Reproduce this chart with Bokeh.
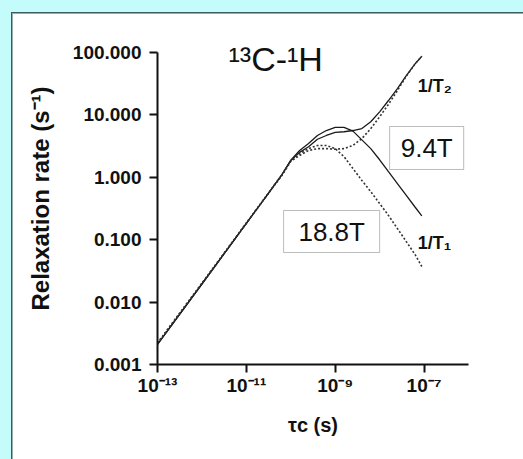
from bokeh.plotting import figure
from bokeh.models import FixedTicker, Label, BoxAnnotation
from bokeh.embed import file_html
from bokeh.resources import INLINE

# correlation times (s)
tau = [1e-13, 1e-12, 1e-11, 3.16e-11, 6.31e-11, 1.0e-10, 1.58e-10, 2.51e-10, 3.98e-10,
       6.31e-10, 1.0e-9, 1.58e-9, 2.51e-9, 3.98e-9, 6.31e-9, 1.0e-8, 1.58e-8, 2.51e-8,
       3.98e-8, 6.31e-8, 8.9e-8]
# relaxation rates (s^-1), 9.4 T (solid)
r1_94 = [0.0021, 0.0195, 0.182, 0.56, 1.10, 1.88, 2.69, 3.47, 4.68, 5.62, 6.31, 6.31, 5.50,
         3.98, 2.88, 1.91, 1.23, 0.794, 0.513, 0.331, 0.240]
r2_94 = [0.0021, 0.0195, 0.182, 0.56, 1.10, 1.85, 2.51, 3.09, 4.07, 4.68, 5.25, 5.37, 5.62,
         6.03, 7.76, 11.2, 17.0, 26.3, 42.7, 66.1, 87.1]
# relaxation rates (s^-1), 18.8 T (dotted)
r1_188 = [0.0022, 0.020, 0.185, 0.56, 1.08, 1.82, 2.40, 2.88, 3.24, 3.24, 2.88, 2.14, 1.38,
          0.891, 0.589, 0.380, 0.245, 0.151, 0.0933, 0.0575, 0.0372]
r2_188 = [0.0022, 0.020, 0.185, 0.56, 1.08, 1.80, 2.24, 2.69, 2.88, 2.88, 2.82, 2.88, 3.24,
          4.17, 6.03, 9.33, 14.8, 24.5, 41.7, 66.1, 87.1]

x_ticks = [1e-13, 1e-11, 1e-9, 1e-7]
x_tick_labels = ["10⁻¹³", "10⁻¹¹", "10⁻⁹", "10⁻⁷"]
x_tick_keys = ["1e-13", "1e-11", "1e-9", "1e-7"]
y_ticks = [0.001, 0.01, 0.1, 1, 10, 100]
y_tick_labels = ["0.001", "0.010", "0.100", "1.000", "10.000", "100.000"]
y_tick_keys = ["0.001", "0.01", "0.1", "1", "10", "100"]

FONT = "Liberation Sans"
INK = "#111111"
CYAN = "#c4fcfc"
EDGE = "#3d5c5c"
GRAY = "#9aabab"

p = figure(width=523, height=459, x_axis_type="log", y_axis_type="log",
           x_range=(1e-13, 1e-6), y_range=(1e-3, 10**2.3205),
           output_backend="svg", toolbar_location=None,
           min_border_left=157, min_border_right=55, min_border_top=32, min_border_bottom=95)
p.styles = {
    "background": (
        f"linear-gradient({CYAN}, {CYAN}) 0px 0px / 11px 100% no-repeat, "
        f"linear-gradient({CYAN}, {CYAN}) 0px 0px / 100% 12px no-repeat, "
        f"linear-gradient({EDGE}, {EDGE}) 11px 12px / 100% 1px no-repeat, "
        f"linear-gradient({EDGE}, {EDGE}) 11px 12px / 1px 100% no-repeat, "
        f"linear-gradient({GRAY}, {GRAY}) 12px 13px / 100% 1px no-repeat, "
        f"linear-gradient({GRAY}, {GRAY}) 12px 13px / 1px 100% no-repeat, "
        f"#ffffff"
    )
}
p.border_fill_color = None
p.background_fill_color = None
p.outline_line_color = None
p.grid.visible = False

p.xaxis.ticker = FixedTicker(ticks=x_ticks)
p.yaxis.ticker = FixedTicker(ticks=y_ticks)
p.xaxis.bounds = (1e-13, 1e-6)
p.yaxis.bounds = (1e-3, 1e2)
xo = {}
for t, k, lab in zip(x_ticks, x_tick_keys, x_tick_labels):
    xo[t] = lab
    xo[k] = lab
yo = {}
for t, k, lab in zip(y_ticks, y_tick_keys, y_tick_labels):
    yo[float(t)] = lab
    yo[k] = lab
p.xaxis.major_label_overrides = xo
p.yaxis.major_label_overrides = yo

for ax in (p.xaxis, p.yaxis):
    ax.axis_line_width = 2
    ax.axis_line_color = INK
    ax.major_tick_line_width = 2
    ax.major_tick_line_color = INK
    ax.major_tick_out = 8
    ax.major_tick_in = 0
    ax.minor_tick_line_color = None
    ax.major_label_text_font = FONT
    ax.major_label_text_font_style = "bold"
    ax.major_label_text_font_size = "19px"
    ax.major_label_text_color = INK
    ax.axis_label_text_font = FONT
    ax.axis_label_text_font_style = "bold"
    ax.axis_label_text_color = INK
p.yaxis.major_label_standoff = 8
p.xaxis.major_label_standoff = 2

p.yaxis.axis_label = "Relaxation rate (s⁻¹)"
p.yaxis.axis_label_text_font_size = "24px"
p.yaxis.axis_label_standoff = 16
p.xaxis.axis_label = "τc (s)"
p.xaxis.axis_label_text_font_size = "20px"
p.xaxis.axis_label_standoff = 15

# curves
p.line(tau, r1_94, line_color="#1a1a1a", line_width=1.3)
p.line(tau, r2_94, line_color="#1a1a1a", line_width=1.3)
p.line(tau, r1_188, line_color="#333333", line_width=1.6, line_dash="2 2")
p.line(tau, r2_188, line_color="#333333", line_width=1.6, line_dash="2 2")

# field boxes
p.add_layout(BoxAnnotation(left=10**-7.775, right=10**-6.108, top=10**0.814, bottom=10**0.125,
                           fill_color="white", fill_alpha=1.0, line_color="#222222", line_width=1))
p.add_layout(BoxAnnotation(left=10**-10.162, right=10**-8.0, top=10**-0.532, bottom=10**-1.205,
                           fill_color="white", fill_alpha=1.0, line_color="#222222", line_width=1))
p.add_layout(Label(x=10**-6.94, y=10**0.47, text="9.4T", text_align="center", text_baseline="middle",
                   text_font=FONT, text_font_size="26px", text_color=INK))
p.add_layout(Label(x=10**-9.08, y=10**-0.87, text="18.8T", text_align="center", text_baseline="middle",
                   text_font=FONT, text_font_size="26px", text_color=INK))

# curve labels
p.add_layout(Label(x=10**-7.144, y=10**1.47, text="1/T₂", text_align="left", text_baseline="middle",
                   text_font=FONT, text_font_style="bold", text_font_size="18px", text_color=INK))
p.add_layout(Label(x=10**-7.144, y=10**-1.06, text="1/T₁", text_align="left", text_baseline="middle",
                   text_font=FONT, text_font_style="bold", text_font_size="18px", text_color=INK))

# title
p.add_layout(Label(x=10**-10.34, y=10**1.888, text="¹³C-¹H", text_align="center", text_baseline="alphabetic",
                   text_font=FONT, text_font_size="34px", text_color=INK))

open("out.html", "w").write(file_html(p, INLINE))
